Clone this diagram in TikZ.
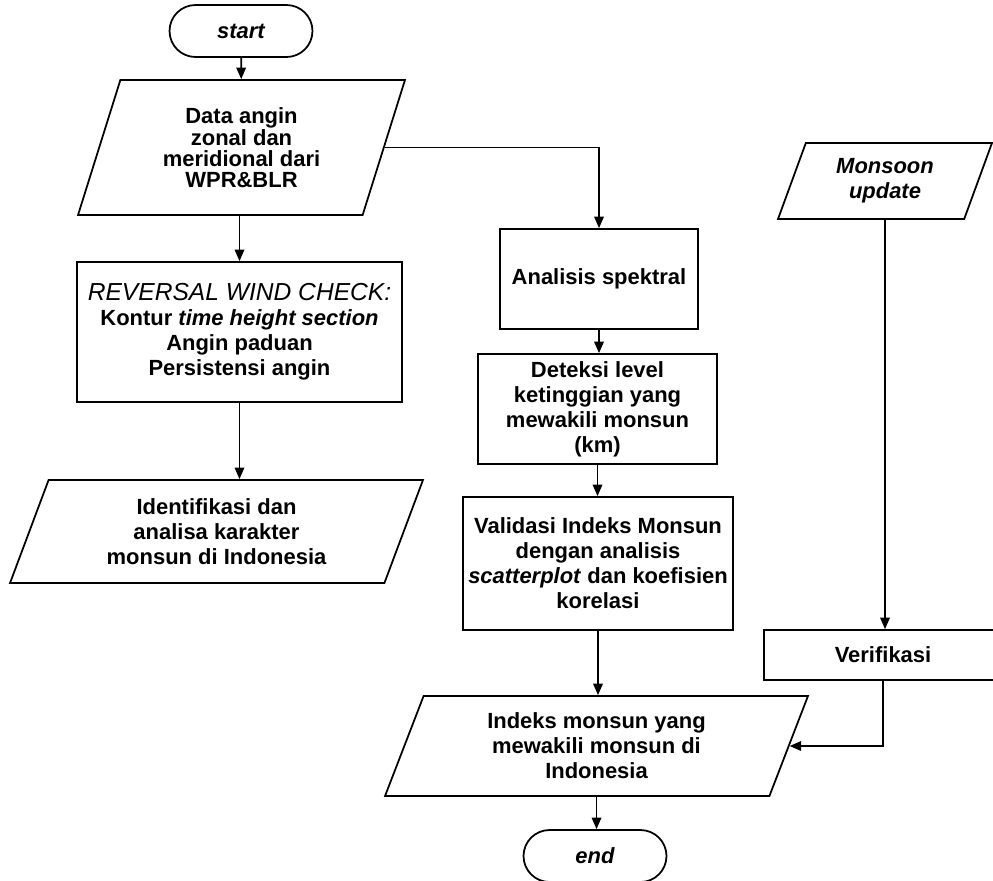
\documentclass[tikz,border=0pt]{standalone}
\usepackage{fontspec}
\setmainfont{Liberation Sans}
\usetikzlibrary{shapes.geometric,arrows.meta}

\begin{document}
\begin{tikzpicture}[x=0.02cm, y=-0.02cm,
    box/.style={draw, line width=1pt, fill=white, align=center,
        font=\fontsize{12.5}{14.2}\selectfont\bfseries},
    proc/.style={box, rectangle, inner sep=2pt},
    io/.style={box, trapezium, trapezium left angle=61, trapezium right angle=119,
        trapezium stretches body, inner sep=1pt},
    term/.style={box, rectangle, rounded corners=0.52cm, minimum width=2.86cm, minimum height=1.04cm},
    arr/.style={-{Triangle[length=2.3mm,width=1.9mm]}, line width=1pt}]
    \useasboundingbox[fill=white] (0,0) rectangle (993,880);

    % left column
    \node[term] (start) at (241,31) {\itshape start};
    \node[io, trapezium left angle=63, trapezium right angle=117, minimum width=6.54cm, minimum height=2.7cm,
        font=\fontsize{12.5}{11.7}\selectfont\bfseries] (data) at (241.5,147.5)
        {Data angin\\zonal dan\\meridional dari\\WPR\&BLR};
    \node[proc, minimum width=6.5cm, minimum height=2.8cm] (rwc) at (239.5,332)
        {{\fontsize{14}{14.2}\selectfont\mdseries\itshape REVERSAL WIND CHECK:}\\Kontur \textit{time height section}\\Angin paduan\\Persistensi angin};
    \node[io, minimum width=8.26cm, minimum height=2.06cm] (ident) at (216.5,531.5)
        {Identifikasi dan\\analisa karakter\\monsun di Indonesia};

    % middle column
    \node[proc, minimum width=3.96cm, minimum height=2cm] (spek) at (599,279) {Analisis spektral};
    \node[proc, minimum width=4.78cm, minimum height=2.2cm] (det) at (597.5,409)
        {Deteksi level\\ketinggian yang\\mewakili monsun\\(km)};
    \node[proc, minimum width=5.4cm, minimum height=2.66cm] (val) at (598,563.5)
        {Validasi Indeks Monsun\\dengan analisis\\\textit{scatterplot} dan koefisien\\korelasi};
    \node[io, minimum width=8.46cm, minimum height=2cm] (idx) at (596.5,746)
        {Indeks monsun yang\\mewakili monsun di\\Indonesia};
    \node[term] (stop) at (595,856) {\itshape end};

    % right column
    \node[io, trapezium left angle=60, trapezium right angle=120, minimum width=4.28cm, minimum height=1.52cm]
        (mon) at (885,181) {\textit{Monsoon}\\\textit{update}};
    \node[proc, minimum width=4.76cm, minimum height=1cm] (ver) at (883,655) {Verifikasi};

    \draw[arr] (start) -- (data);
    \draw[arr] (rwc.north |- data.south) -- (rwc.north);
    \draw[arr] (rwc.south) -- (rwc.south |- ident.north);
    \draw[arr] (data.east) -| (spek.north);
    \draw[arr] (spek.south) -- (spek.south |- det.north);
    \draw[arr] (det.south) -- (det.south |- val.north);
    \draw[arr] (val.south) -- (val.south |- idx.north);
    \draw[arr] (idx.south) -- (idx.south |- stop.north);
    \draw[arr] (mon.south) -- (mon.south |- ver.north);
    \draw[arr] (ver.south) |- (idx.east);
\end{tikzpicture}
\end{document}
